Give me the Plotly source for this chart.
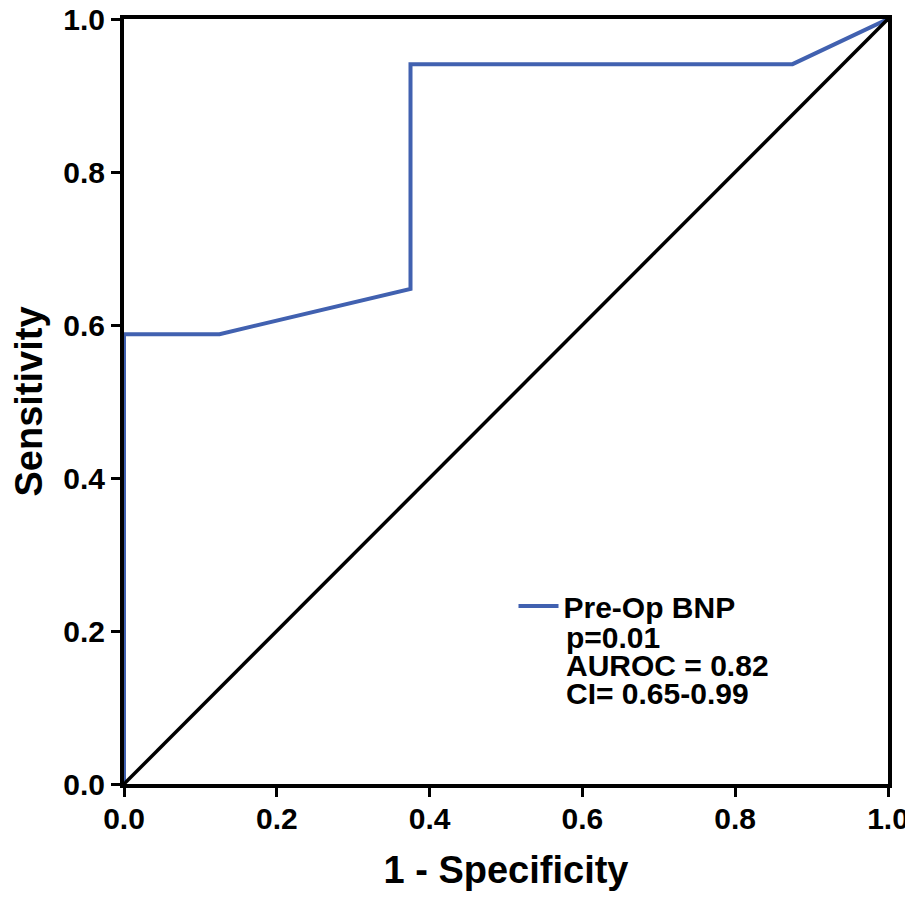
import plotly.graph_objects as go

# ROC curve data (1 - specificity, sensitivity)
fpr = [0.0, 0.0, 0.125, 0.375, 0.375, 0.875, 1.0]
tpr = [0.0, 0.588, 0.588, 0.647, 0.941, 0.941, 1.0]

# reference (chance) line
ref_x = [0.0, 1.0]
ref_y = [0.0, 1.0]

series_name = "Pre-Op BNP"
stats_lines = ["p=0.01", "AUROC = 0.82", "CI= 0.65-0.99"]
tick_vals = [0.0, 0.2, 0.4, 0.6, 0.8, 1.0]
tick_text = ["0.0", "0.2", "0.4", "0.6", "0.8", "1.0"]

FONT = "Liberation Sans, Arial, sans-serif"
BLUE = "#4161b0"

fig = go.Figure()
fig.add_trace(go.Scatter(
    x=fpr, y=tpr, mode="lines", name=series_name,
    line=dict(color=BLUE, width=4),
))
fig.add_trace(go.Scatter(
    x=ref_x, y=ref_y, mode="lines", showlegend=False,
    line=dict(color="black", width=3.5),
))

# page body has an 8px default margin; compensate so the plot lands where the reference has it
OFF = 8
W, H = 913 - OFF, 902 - OFF
ml, mt = 124 - OFF, 19 - OFF
pw, ph = 764, 765
mr, mb = W - ml - pw, H - mt - ph

def px_to_paper_x(px):
    return (px - OFF - ml) / pw

def px_to_paper_y(py):
    return (mt + OFF + ph - py) / ph

annotations = []
for i, txt in enumerate(stats_lines):
    annotations.append(dict(
        text=txt, xref="paper", yref="paper",
        x=px_to_paper_x(564), y=px_to_paper_y(637 + 28 * i),
        xanchor="left", yanchor="middle", showarrow=False,
        font=dict(family=FONT, size=30, color="black", weight="bold"),
    ))

axis_common = dict(
    range=[0, 1], tickvals=tick_vals, ticktext=tick_text,
    showgrid=False, zeroline=False, automargin=False,
    showline=True, linecolor="black", linewidth=4, mirror=True,
    ticks="outside", ticklen=9, tickwidth=2.5, tickcolor="black",
    ticklabeloverflow="allow",
    tickfont=dict(family=FONT, size=30, color="black", weight="bold"),
)

fig.update_layout(
    width=W, height=H,
    margin=dict(l=ml, r=mr, t=mt, b=mb, pad=0, autoexpand=False),
    plot_bgcolor="white", paper_bgcolor="white",
    xaxis=dict(**axis_common, ticklabelstandoff=-4,
               title=dict(text="1 - Specificity", standoff=23,
                          font=dict(family=FONT, size=38, color="black", weight="bold"))),
    yaxis=dict(**axis_common,
               title=dict(text="Sensitivity", standoff=13,
                          font=dict(family=FONT, size=38, color="black", weight="bold"))),
    legend=dict(
        x=px_to_paper_x(513.5), y=px_to_paper_y(580),
        xanchor="left", yanchor="top",
        bgcolor="rgba(0,0,0,0)",
        font=dict(family=FONT, size=30, color="black", weight="bold"),
        itemwidth=40,
    ),
    annotations=annotations,
    showlegend=True,
)

fig.write_html("out.html")
